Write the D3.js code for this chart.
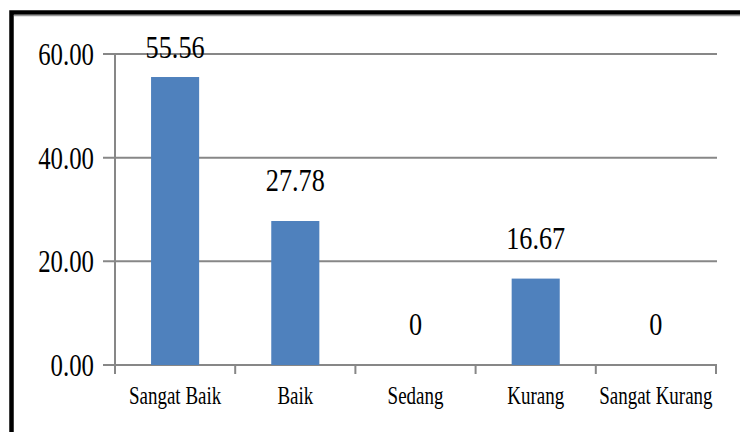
<!DOCTYPE html>
<html>
<head>
<meta charset="utf-8">
<script src="https://cdn.jsdelivr.net/npm/d3@7"></script>
<style>
  body{margin:0;background:#fff;}
</style>
</head>
<body>
<svg id="chart" width="740" height="432"></svg>
<script>
const categories=["Sangat Baik","Baik","Sedang","Kurang","Sangat Kurang"]
const values=[55.56,27.78,0,16.67,0]
const valueLabels=["55.56","27.78","0","16.67","0"]
const yTicks=[0,20,40,60]

let width=740
let height=432
const padLeft=115, padRight=716, padTop=54, padBottom=365
const font="'Liberation Serif', 'Times New Roman', Times, serif"

const svg=d3.select("#chart")

// outer frame
svg.append("rect")
  .attr("x",11.5).attr("y",12.5)
  .attr("width",width+20).attr("height",height+20)
  .attr("fill","none").attr("stroke","#000").attr("stroke-width",4.5)
svg.append("line")
  .attr("x1",14).attr("x2",width).attr("y1",15.5).attr("y2",15.5)
  .attr("stroke","#999").attr("stroke-width",1.5)

const xscale=d3.scaleBand()
  .domain(categories)
  .range([padLeft,padRight])
  .paddingInner(0.6).paddingOuter(0.3)
const xband=d3.scaleBand().domain(categories).range([padLeft,padRight])
const yscale=d3.scaleLinear().domain([0,60]).range([padBottom,padTop])

// gridlines + y ticks
svg.selectAll(".grid")
  .data(yTicks)
  .enter()
  .append("line")
  .attr("x1",padLeft-12).attr("x2",padRight+1)
  .attr("y1",d=>yscale(d)).attr("y2",d=>yscale(d))
  .attr("stroke","#878787").attr("stroke-width",2)

svg.append("line")
  .attr("x1",padLeft).attr("x2",padLeft)
  .attr("y1",padTop).attr("y2",padBottom)
  .attr("stroke","#878787").attr("stroke-width",2)

// category ticks
const bounds=categories.map(c=>xband(c)).concat([padRight])
svg.selectAll(".xtick")
  .data(bounds)
  .enter()
  .append("line")
  .attr("x1",d=>d).attr("x2",d=>d)
  .attr("y1",padBottom).attr("y2",padBottom+9)
  .attr("stroke","#878787").attr("stroke-width",2)

// bars
svg.selectAll(".bar")
  .data(values)
  .enter()
  .append("rect")
  .attr("x",(d,i)=>xscale(categories[i]))
  .attr("width",xscale.bandwidth())
  .attr("y",d=>yscale(d))
  .attr("height",d=>padBottom-yscale(d))
  .attr("fill","#4F81BD")

// y tick labels
svg.selectAll(".ylab")
  .data(yTicks)
  .enter()
  .append("text")
  .attr("transform",d=>`translate(94,${yscale(d)+11}) scale(0.8,1)`)
  .attr("text-anchor","end")
  .attr("font-family",font)
  .attr("font-size",31)
  .attr("fill","#000")
  .text(d=>d.toFixed(2))

// category labels
svg.selectAll(".xlab")
  .data(categories)
  .enter()
  .append("text")
  .attr("transform",d=>`translate(${xband(d)+xband.bandwidth()/2},404) scale(0.73,1)`)
  .attr("text-anchor","middle")
  .attr("font-family",font)
  .attr("font-size",26)
  .attr("fill","#000")
  .text(d=>d)

// data labels, kept inside the plot area
svg.selectAll(".vlab")
  .data(values)
  .enter()
  .append("text")
  .attr("transform",(d,i)=>{
    const cx=xband(categories[i])+xband.bandwidth()/2
    const y=Math.max(yscale(d)-30,padTop+4)
    return `translate(${cx},${y}) scale(0.82,1)`
  })
  .attr("text-anchor","middle")
  .attr("font-family",font)
  .attr("font-size",32)
  .attr("fill","#000")
  .text((d,i)=>valueLabels[i])
</script>
</body>
</html>
